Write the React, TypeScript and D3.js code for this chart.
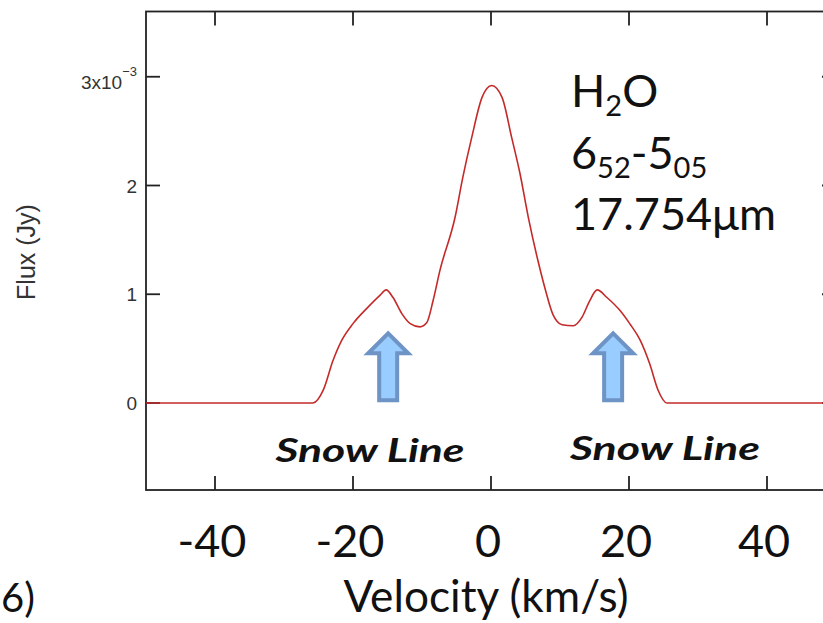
import React from "react";
import * as d3 from "d3";

const velocity = [-50, -30, -25.8, -24.3, -22.9, -21.6, -20.0, -18.0, -16.1, -15.2, -14.2, -12.9, -11.7, -10.3, -9.3, -8.4, -7.4, -5.2, -4.1, -2.8, -1.3, 0.1, 1.6, 3.0, 4.2, 5.4, 6.8, 7.8, 9.0, 10.3, 11.9, 13.2, 14.3, 15.4, 16.8, 18.7, 20.1, 21.6, 23.0, 24.2, 25.5, 30, 50];
const flux = [0, 0, 0, 0.12, 0.39, 0.58, 0.73, 0.87, 0.99, 1.04, 0.97, 0.82, 0.73, 0.70, 0.74, 0.94, 1.22, 1.71, 2.07, 2.44, 2.81, 2.92, 2.81, 2.44, 2.11, 1.71, 1.31, 1.06, 0.81, 0.72, 0.71, 0.79, 0.94, 1.04, 0.97, 0.85, 0.73, 0.58, 0.36, 0.12, 0, 0, 0];

const xTicks = [-40, -20, 0, 20, 40];
const yTicks = [0, 1, 2, 3];
const arrowV = [-14.9, 17.7];
const snowLabels = ["Snow Line", "Snow Line"];

const W = 823, H = 623;
const L = 146, R = 836, T = 11.5, B = 490;

export default function App() {
  const x = d3.scaleLinear().domain([-50, 50]).range([L, R]);
  const y = d3.scaleLinear().domain([-0.8, 3.6]).range([B, T]);
  const pts = velocity.map((v, i) => [v, flux[i]] as [number, number]);
  const line = d3.line<[number, number]>().x(d => x(d[0])).y(d => y(d[1])).curve(d3.curveMonotoneX);
  const axisColor = "#222";
  const tickLen = 14;
  const arrowTip = y(0.64), arrowHead = y(0.457), arrowBase = y(0.025);
  const arrowPath = (cx: number) =>
    `M${cx},${arrowTip} L${cx + 20},${arrowHead} L${cx + 9},${arrowHead} L${cx + 9},${arrowBase} L${cx - 9},${arrowBase} L${cx - 9},${arrowHead} L${cx - 20},${arrowHead} Z`;
  return (
    <svg width={W} height={H} style={{ position: "absolute", left: 0, top: 0, background: "#fff" }}>
      <rect x={0} y={0} width={W} height={H} fill="#fff" />
      <rect x={L} y={T} width={R - L} height={B - T} fill="none" stroke={axisColor} strokeWidth={1.8} />
      {xTicks.map(t => (
        <g key={"xt" + t}>
          <line x1={x(t)} x2={x(t)} y1={B} y2={B - tickLen} stroke={axisColor} strokeWidth={1.8} />
          <line x1={x(t)} x2={x(t)} y1={T} y2={T + tickLen} stroke={axisColor} strokeWidth={1.8} />
          <text x={x(t) - 3} y={557} textAnchor="middle" fontFamily="Lato, 'Open Sans', sans-serif" fontSize={45} fill="#111">{t}</text>
        </g>
      ))}
      {yTicks.map(t => (
        <g key={"yt" + t}>
          <line x1={L} x2={L + tickLen} y1={y(t)} y2={y(t)} stroke={axisColor} strokeWidth={1.8} />
          <line x1={R} x2={R - tickLen} y1={y(t)} y2={y(t)} stroke={axisColor} strokeWidth={1.8} />
          {t === 3 ? (
            <text x={137} y={y(t) + 12} textAnchor="end" fontFamily="'Liberation Sans', Arial, sans-serif" fontSize={19} fill="#333">
              3x10<tspan fontSize={13} dy={-13}>−3</tspan>
            </text>
          ) : (
            <text x={137} y={y(t) + 7} textAnchor="end" fontFamily="'Liberation Sans', Arial, sans-serif" fontSize={19} fill="#333">{t}</text>
          )}
        </g>
      ))}
      <path d={line(pts) || ""} fill="none" stroke="#c42a2a" strokeWidth={1.6} />
      {arrowV.map((v, i) => (
        <path key={"ar" + i} d={arrowPath(x(v))} fill="#99ccff" stroke="#6e94c6" strokeWidth={4} strokeLinejoin="miter" />
      ))}
      <text x={370} y={462} textAnchor="middle" fontFamily="Lato, sans-serif" fontWeight="bold" fontStyle="italic" fontSize={32} fill="#111" textLength={189} lengthAdjust="spacingAndGlyphs">{snowLabels[0]}</text>
      <text x={665} y={460} textAnchor="middle" fontFamily="Lato, sans-serif" fontWeight="bold" fontStyle="italic" fontSize={32} fill="#111" textLength={190} lengthAdjust="spacingAndGlyphs">{snowLabels[1]}</text>
      <g fontFamily="Lato, sans-serif" fill="#111">
        <text x={571} y={107} fontSize={45}>H<tspan fontSize={29} dy={9}>2</tspan><tspan dy={-9}>O</tspan></text>
        <text x={571} y={169} fontSize={45}>6<tspan fontSize={29} dy={9}>52</tspan><tspan dy={-9}>-5</tspan><tspan fontSize={29} dy={9}>05</tspan></text>
        <text x={571} y={230} fontSize={45}>17.754μm</text>
      </g>
      <text x={486} y={612} textAnchor="middle" fontFamily="Lato, sans-serif" fontSize={44} fill="#111" textLength={285} lengthAdjust="spacingAndGlyphs">Velocity (km/s)</text>
      <text transform="translate(35,252) rotate(-90)" textAnchor="middle" fontFamily="'Liberation Sans', Arial, sans-serif" fontSize={25} fill="#333">Flux (Jy)</text>
      <text x={1} y={612} textAnchor="start" fontFamily="Lato, sans-serif" fontSize={40} fill="#111">6)</text>
    </svg>
  );
}
